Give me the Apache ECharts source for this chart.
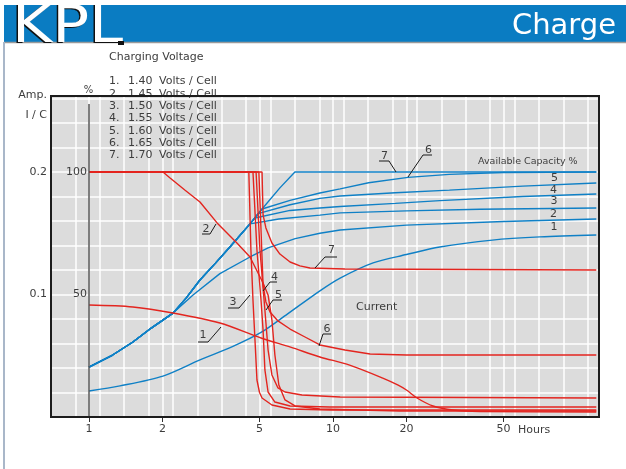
<!DOCTYPE html>
<html>
<head>
<meta charset="utf-8">
<script src="https://cdn.jsdelivr.net/npm/echarts@6/dist/echarts.min.js"></script>
<style>
html,body{margin:0;padding:0;background:#fff;}
#chart{width:626px;height:469px;}
</style>
</head>
<body>
<div id="chart"></div>
<script>
// ---------------- data (hours, value) ----------------
const xTickValues = [1, 2, 5, 10, 20, 50];
const yTickLabels = [0.1, 0.2];
const pctTickLabels = [50, 100];
const voltages = ['1.40', '1.45', '1.50', '1.55', '1.60', '1.65', '1.70'];

// Charge current, I/C (A per C)
const current1 = [[1,0.0914],[1.514,0.0898],[2.21,0.0849],[3.44,0.0767],[5.07,0.0645],[6.7,0.057],[8.84,0.049],[11.7,0.0424],[16,0.0318],[18.5,0.026],[20,0.022],[22.1,0.0155],[25.7,0.009],[31,0.0057],[40,0.0045],[120,0.0041]];
const current2 = [[1,0.2],[2.01,0.2],[2.15,0.1951],[2.47,0.1853],[2.85,0.1755],[3.35,0.1584],[4.04,0.142],[4.57,0.1306],[5.17,0.1094],[5.42,0.0996],[5.62,0.0792],[5.78,0.0506],[6.0,0.0261],[6.36,0.0139],[6.99,0.009],[8.84,0.0065],[18.8,0.0049],[120,0.0049]];
const current3 = [[1,0.2],[4.52,0.2],[4.61,0.1363],[4.70,0.0955],[4.79,0.0629],[4.88,0.0302],[5.0,0.02],[5.12,0.0155],[5.62,0.0098],[6.67,0.0065],[9.72,0.0057],[120,0.0057]];
const current4 = [[1,0.2],[4.70,0.2],[4.88,0.1363],[5.07,0.0955],[5.17,0.071],[5.26,0.0384],[5.42,0.0204],[5.78,0.0122],[6.67,0.009],[9.72,0.0082],[120,0.0082]];
const current5 = [[1,0.2],[4.84,0.2],[5.02,0.1363],[5.26,0.0873],[5.42,0.0547],[5.62,0.0343],[5.95,0.0237],[6.36,0.0204],[7.46,0.018],[10.7,0.0163],[120,0.0155]];
const current6 = [[1,0.2],[4.97,0.2],[5.07,0.1527],[5.17,0.1078],[5.31,0.0939],[5.52,0.0857],[5.95,0.0784],[6.67,0.0718],[7.68,0.0653],[8.84,0.0588],[11.2,0.0547],[14.2,0.0514],[20,0.0506],[120,0.0506]];
const current7 = [[1,0.2],[5.12,0.2],[5.17,0.1649],[5.31,0.1543],[5.62,0.142],[6.06,0.133],[6.67,0.1265],[7.32,0.1233],[8.05,0.1216],[11.2,0.1208],[120,0.12]];

// Available capacity, %
const capacityRise = [[1,20.4],[1.25,25.3],[1.514,30.6],[1.8,36.3],[2.21,42.4],[2.5,48.5],[2.85,55.9],[3.3,62.8],[3.78,69.4],[4.57,78.8]];
const capacity1 = [[1,10.6],[1.34,12.7],[2.01,16.7],[2.85,23.3],[3.89,28.8],[5.07,34.5],[6.5,42],[8.84,51.5],[10.7,56.7],[14.6,62.9],[20,66.3],[27.4,69.4],[45,72.2],[70.5,73.5],[120,74.3]];
const capacity2 = [[1,20.4],[1.25,25.3],[1.514,30.6],[1.8,36.3],[2.21,42.4],[2.67,49.8],[3.44,58.5],[4.57,65.3],[5.42,69],[7,72.8],[8.84,75],[10.7,76.3],[20,78.3],[50,79.8],[120,80.8]];
const capacity3 = capacityRise.concat([[6.0,80.8],[8.84,82.4],[10.7,83.3],[20,84.1],[40,84.8],[120,85.3]]);
const capacity4 = capacityRise.concat([[4.79,81.2],[6.67,84.3],[8.84,85.3],[10.7,85.9],[18,87.2],[27.4,88.3],[60,90],[120,91]]);
const capacity5 = capacityRise.concat([[4.93,83],[6.67,86.6],[8.84,89.2],[10.7,90.2],[18,91.5],[30,92.6],[60,94.2],[120,95.5]]);
const capacity6 = capacityRise.concat([[5.12,84.9],[6.67,88.4],[8.84,91.4],[10.7,93.1],[14,95.6],[20.3,97.8],[30,99],[50,99.8],[120,100]]);
const capacity7 = capacityRise.concat([[5.12,84.9],[6.06,93.5],[6.98,100],[120,100]]);

const currents = [current1, current2, current3, current4, current5, current6, current7];
const capacities = [capacity1, capacity2, capacity3, capacity4, capacity5, capacity6, capacity7];

// ---------------- styling / layout ----------------
const FONT = '"DejaVu Sans", sans-serif';
const TXT = '#3d3d3d';
const RED = '#e3251f';
const BLUE = '#0f80c6';
const GRID = {left: 51, top: 96, right: 27, bottom: 52};
const W = 626, H = 469;

const chart = echarts.init(document.getElementById('chart'), null, {renderer: 'canvas'});

function text(x, y, s, size, opt) {
  opt = opt || {};
  return {
    type: 'text', x: x, y: y, z: opt.z || 60, silent: true,
    scaleX: opt.scaleX || 1, originX: 0, originY: 0,
    style: {
      text: s, fill: opt.fill || TXT,
      font: (opt.weight || 'normal') + ' ' + size + 'px ' + (opt.family || FONT),
      align: opt.align || 'left', textAlign: opt.align || 'left',
      verticalAlign: 'middle', textVerticalAlign: 'middle'
    }
  };
}
function poly(points, color, width, z) {
  return {type: 'polyline', z: z || 60, silent: true,
    shape: {points: points}, style: {stroke: color, lineWidth: width, fill: null}};
}

// leader labels (annotation positions in page pixels)
const leaders = [
  {t: '1', x: 203, y: 335, p: [[198,342],[208,342],[221,327]]},
  {t: '2', x: 206, y: 229, p: [[202,234],[210,234],[216,224]]},
  {t: '3', x: 233, y: 302, p: [[228,308],[239,308],[250,295]]},
  {t: '4', x: 274.5, y: 277, p: [[277,282],[270,282],[263,291]]},
  {t: '5', x: 278.5, y: 295, p: [[282,300],[273,300],[266,310]]},
  {t: '6', x: 327, y: 329, p: [[331,334],[323,334],[319,346]]},
  {t: '7', x: 331.5, y: 250.5, p: [[337,257],[325,257],[315,268]]},
  {t: '7', x: 384.5, y: 156, p: [[379,161],[389,161],[396,172]]},
  {t: '6', x: 428.5, y: 150, p: [[432,155],[423,155],[408,177]]}
];
const endLabels = [
  {t: '5', x: 554.5, y: 178.5}, {t: '4', x: 553.5, y: 190}, {t: '3', x: 554, y: 201.5},
  {t: '2', x: 553.5, y: 214}, {t: '1', x: 554, y: 227}
];

const graphics = [];
// header
graphics.push({type: 'rect', z: 40, silent: true, shape: {x: 4, y: 5, width: W - 4, height: 37}, style: {fill: '#0a7cc2'}});
graphics.push({type: 'line', z: 41, silent: true, shape: {x1: 4, y1: 42.5, x2: W, y2: 42.5}, style: {stroke: '#9a9a9a', lineWidth: 1.5}});
graphics.push({type: 'line', z: 41, silent: true, shape: {x1: 4, y1: 42, x2: 4, y2: H}, style: {stroke: '#a9b7c9', lineWidth: 2}});
graphics.push(text(10.5, 29.5, 'KPL', 51, {fill: '#111', z: 42, scaleX: 1.2}));
graphics.push(text(12, 28.8, 'KPL', 51, {fill: '#fff', z: 43, scaleX: 1.2}));
graphics.push({type: 'rect', z: 43, silent: true, shape: {x: 118, y: 41, width: 6, height: 4}, style: {fill: '#111'}});
graphics.push(text(616, 26, 'Charge', 29, {fill: '#fff', align: 'right', z: 43}));

// legend of charging voltages
graphics.push(text(109, 57, 'Charging Voltage', 11, {z: 5}));
const rowY = [81, 94, 106.5, 118.5, 131, 143, 155];
voltages.forEach(function (v, i) {
  graphics.push(text(109, rowY[i], (i + 1) + '.', 11, {z: 5}));
  graphics.push(text(128, rowY[i], v, 11, {z: 5}));
  graphics.push(text(159, rowY[i], 'Volts / Cell', 11, {z: 5}));
});

// axis captions
graphics.push(text(47, 95, 'Amp.', 11, {align: 'right'}));
graphics.push(text(47, 115, 'I / C', 11, {align: 'right'}));
graphics.push(text(88.5, 90.5, '%', 10, {align: 'center'}));
graphics.push(text(518, 430, 'Hours', 11));
graphics.push(text(478, 161.5, 'Available Capacity %', 9.5));
graphics.push(text(356, 307.5, 'Current', 11));

leaders.forEach(function (l) {
  graphics.push(text(l.x, l.y, l.t, 11, {align: 'center'}));
  graphics.push(poly(l.p, '#1a1a1a', 1));
});
endLabels.forEach(function (l) {
  graphics.push(text(l.x, l.y, l.t, 11, {align: 'center'}));
});

// plot frame on top
graphics.push({type: 'rect', z: 30, silent: true,
  shape: {x: GRID.left, y: GRID.top, width: W - GRID.left - GRID.right, height: H - GRID.top - GRID.bottom},
  style: {fill: null, stroke: '#1c1c1c', lineWidth: 2}});

const series = [];
currents.forEach(function (d, i) {
  const s = {
    name: 'Current ' + (i + 1), type: 'line', data: d, xAxisIndex: 0, yAxisIndex: 0,
    showSymbol: false, symbol: 'none', silent: true, z: 3,
    smooth: i === 0 ? 0.3 : false,
    lineStyle: {color: RED, width: 1.4}
  };
  if (i === 0) {
    s.markLine = {
      silent: true, symbol: ['none', 'none'], label: {show: false},
      lineStyle: {color: '#555', width: 1.5, type: 'solid'},
      data: [[{coord: [1, 0]}, {coord: [1, 0.2555]}]]
    };
  }
  series.push(s);
});
capacities.forEach(function (d, i) {
  series.push({
    name: 'Capacity ' + (i + 1), type: 'line', data: d, xAxisIndex: 0, yAxisIndex: 1,
    showSymbol: false, symbol: 'none', silent: true, z: 2,
    smooth: i === 0 ? 0.3 : false,
    lineStyle: {color: BLUE, width: 1.4}
  });
});

const option = {
  animation: false,
  backgroundColor: '#ffffff',
  textStyle: {fontFamily: FONT},
  grid: {left: GRID.left, top: GRID.top, right: GRID.right, bottom: GRID.bottom,
    show: true, backgroundColor: '#dcdcdc', borderWidth: 0},
  xAxis: [
    {
      type: 'log', logBase: 10, min: 0.6988, max: 123.1,
      axisLine: {show: false},
      axisTick: {show: true, customValues: xTickValues, length: 5, lineStyle: {color: '#333', width: 1}},
      axisLabel: {show: true, customValues: xTickValues, color: TXT, fontSize: 11, margin: 7, fontFamily: FONT},
      splitLine: {show: true, lineStyle: {color: '#ffffff', width: 1.5}},
      minorTick: {show: false}, minorSplitLine: {show: false}
    },
    {
      type: 'value', position: 'top', min: -1.057, max: 21.402, interval: 1,
      axisLine: {show: false}, axisTick: {show: false}, axisLabel: {show: false},
      splitLine: {show: true, lineStyle: {color: '#ffffff', width: 1.5}}
    }
  ],
  yAxis: [
    {
      type: 'value', min: 0, max: 0.262, interval: 0.02,
      axisLine: {show: false}, axisTick: {show: false},
      axisLabel: {
        color: TXT, fontSize: 11, margin: 4, fontFamily: FONT,
        formatter: function (v) {
          for (const t of yTickLabels) { if (Math.abs(v - t) < 1e-6) return String(t); }
          return '';
        }
      },
      splitLine: {show: true, lineStyle: {color: '#ffffff', width: 1.5}}
    },
    {
      type: 'value', position: 'left', offset: -38, min: 0, max: 131, interval: 10,
      axisLine: {show: false}, axisTick: {show: false},
      axisLabel: {
        color: TXT, fontSize: 11, margin: 2, fontFamily: FONT,
        formatter: function (v) { return pctTickLabels.indexOf(Math.round(v)) >= 0 && Math.abs(v - Math.round(v)) < 1e-6 ? String(Math.round(v)) : ''; }
      },
      splitLine: {show: false}
    }
  ],
  graphic: {elements: graphics},
  series: series
};
chart.setOption(option);
</script>
</body>
</html>
